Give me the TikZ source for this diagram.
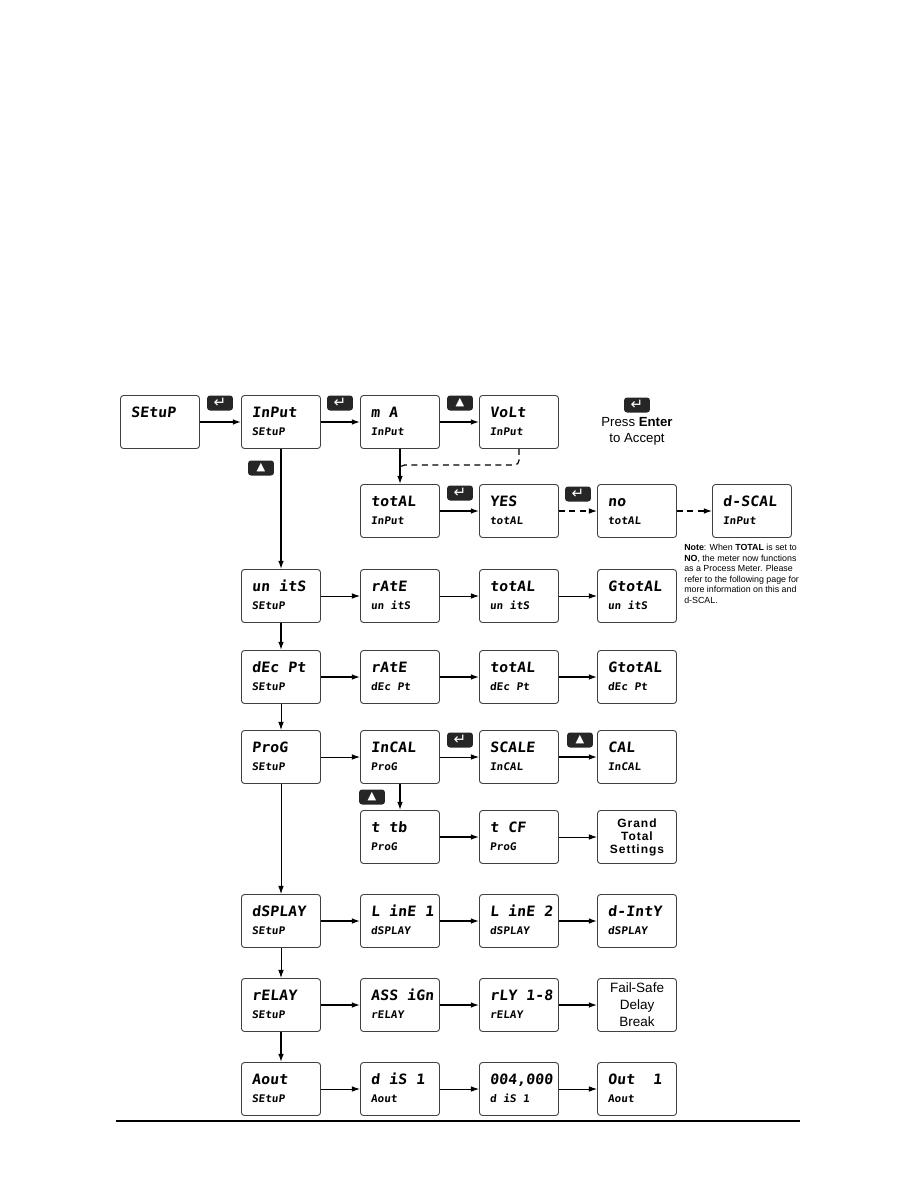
\documentclass[tikz,border=0pt]{standalone}
\usepackage{fontspec}
\setmainfont{Liberation Sans}
\newfontfamily\lcdfont[FakeSlant=0.1,FakeStretch=1.05]{DejaVu Sans Mono}
\newfontfamily\symfont{DejaVu Sans}
\usetikzlibrary{arrows.meta}

\newcommand{\lcdmain}{\lcdfont\bfseries\fontsize{9.5}{12}\selectfont}
\newcommand{\lcdsub}{\lcdfont\bfseries\fontsize{7}{12}\selectfont}
% one blank display cell
\newcommand{\dsp}{\hbox to 0.632em{}}

\tikzset{
	>={Latex[length=5.5pt,width=3.8pt]},
	boxbase/.style={draw=black!75, line width=0.6pt, rounded corners=2pt, minimum width=52.67pt, minimum height=35.33pt, inner ysep=0pt},
	disp/.style={boxbase, inner xsep=6.8pt, text width=39pt, align=left, font=\lcdmain, execute at begin node={\rule{0pt}{7.2pt}}, execute at end node={\rule[-1.2pt]{0pt}{1.2pt}}},
	plainbox/.style={boxbase, inner xsep=2pt, align=center},
	enterkey/.style={fill=black!85, rounded corners=2pt, minimum width=17.3pt, minimum height=10pt, inner sep=0pt, text=white, font=\symfont\fontsize{10}{10}\selectfont},
	upkey/.style={enterkey, font=\symfont\fontsize{7.5}{7.5}\selectfont},
	conn/.style={line width=0.9pt, ->},
	connthin/.style={line width=0.65pt, ->},
	dashconn/.style={line width=0.8pt, dash pattern=on 4pt off 3pt}
}

\begin{document}
\begin{tikzpicture}[x=0.6667pt, y=-0.6667pt]
	\useasboundingbox (0,0) rectangle (918,1188);

	% Input row
	\node[disp] (setup) at (160,422) {SEtuP\\};
	\node[disp] (input) at (281,422) {InPut\\{\lcdsub SEtuP}};
	\node[disp] (ma) at (400,422) {m\dsp A\\{\lcdsub InPut}};
	\node[disp] (volt) at (519,422) {VoLt\\{\lcdsub InPut}};
	\node[enterkey] (k1) at (220,403) {↵};
	\node[enterkey] (k2) at (340,403) {↵};
	\node[upkey] (k3) at (460,403) {▲};
	\draw[conn] (setup) -- (input);
	\draw[conn] (input) -- (ma);
	\draw[conn] (ma) -- (volt);

	% Press Enter
	\node[enterkey] (k7) at (637,405) {↵};
	\node[font=\fontsize{8.8}{10.7}\selectfont, align=center, inner sep=0pt] (press) at (637,431) {Press \textbf{Enter}\\to Accept};

	% Totalizer row
	\node[disp] (total) at (400,511) {totAL\\{\lcdsub InPut}};
	\node[disp] (yes) at (519,511) {YES\\{\lcdsub totAL}};
	\node[disp] (no) at (637,511) {no\\{\lcdsub totAL}};
	\node[disp] (dscal) at (752,511) {d-SCAL\\{\lcdsub InPut}};
	\node[enterkey] (k5) at (460,493) {↵};
	\node[enterkey] (k6) at (578,494) {↵};
	\coordinate (vbend) at (400,465);
	\draw[conn] (ma) -- (total);
	\draw[dashconn, rounded corners=3pt] (volt.south) |- (vbend) -- ++(0,9);
	\draw[conn] (total) -- (yes);
	\draw[dashconn, ->] (yes) -- (no);
	\draw[dashconn, ->] (no) -- (dscal);
	\node[anchor=north west, font=\fontsize{5.9}{7}\selectfont, align=left, inner sep=0pt] (note) at (684,544)
		{\textbf{Note}: When \textbf{TOTAL} is set to\\\textbf{NO}, the meter now functions\\as a Process Meter. Please\\refer to the following page for\\more information on this and\\d-SCAL.};

	% Units row
	\node[disp] (units) at (281,596) {un\dsp itS\\{\lcdsub SEtuP}};
	\node[disp] (urate) at (400,596) {rAtE\\{\lcdsub un\dsp itS}};
	\node[disp] (utotal) at (519,596) {totAL\\{\lcdsub un\dsp itS}};
	\node[disp] (ugtotal) at (637,596) {GtotAL\\{\lcdsub un\dsp itS}};
	\node[upkey] (k4) at (261,468) {▲};
	\draw[conn] (input) -- (units);
	\draw[connthin] (units) -- (urate);
	\draw[connthin] (urate) -- (utotal);
	\draw[connthin] (utotal) -- (ugtotal);

	% Decimal point row
	\node[disp] (decpt) at (281,677) {dEc\dsp Pt\\{\lcdsub SEtuP}};
	\node[disp] (drate) at (400,677) {rAtE\\{\lcdsub dEc\dsp Pt}};
	\node[disp] (dtotal) at (519,677) {totAL\\{\lcdsub dEc\dsp Pt}};
	\node[disp] (dgtotal) at (637,677) {GtotAL\\{\lcdsub dEc\dsp Pt}};
	\draw[conn] (units) -- (decpt);
	\draw[conn] (decpt) -- (drate);
	\draw[conn] (drate) -- (dtotal);
	\draw[conn] (dtotal) -- (dgtotal);

	% Program rows
	\node[disp] (prog) at (281,757) {ProG\\{\lcdsub SEtuP}};
	\node[disp] (incal) at (400,757) {InCAL\\{\lcdsub ProG}};
	\node[disp] (scale) at (519,757) {SCALE\\{\lcdsub InCAL}};
	\node[disp] (cal) at (637,757) {CAL\\{\lcdsub InCAL}};
	\node[enterkey] (k8) at (460,740) {↵};
	\node[upkey] (k9) at (580,740) {▲};
	\node[disp] (ttb) at (400,837) {t\dsp tb\\{\lcdsub ProG}};
	\node[disp] (tcf) at (519,837) {t\dsp CF\\{\lcdsub ProG}};
	\node[plainbox, font=\bfseries\addfontfeature{LetterSpace=8}\fontsize{8}{8.7}\selectfont] (gts) at (637,837) {Grand\\Total\\Settings};
	\node[upkey] (k10) at (372,797) {▲};
	\draw[connthin] (decpt) -- (prog);
	\draw[connthin] (prog) -- (incal);
	\draw[connthin] (incal) -- (scale);
	\draw[conn] (scale) -- (cal);
	\draw[conn] (incal) -- (ttb);
	\draw[conn] (ttb) -- (tcf);
	\draw[connthin] (tcf) -- (gts);

	% Display row
	\node[disp] (dsplay) at (281,921) {dSPLAY\\{\lcdsub SEtuP}};
	\node[disp] (line1) at (400,921) {L\dsp inE\dsp 1\\{\lcdsub dSPLAY}};
	\node[disp] (line2) at (519,921) {L\dsp inE\dsp 2\\{\lcdsub dSPLAY}};
	\node[disp] (dinty) at (637,921) {d-IntY\\{\lcdsub dSPLAY}};
	\draw[connthin] (prog) -- (dsplay);
	\draw[conn] (dsplay) -- (line1);
	\draw[conn] (line1) -- (line2);
	\draw[conn] (line2) -- (dinty);

	% Relay row
	\node[disp] (relay) at (281,1005) {rELAY\\{\lcdsub SEtuP}};
	\node[disp] (assign) at (400,1005) {ASS\dsp iGn\\{\lcdsub rELAY}};
	\node[disp] (rly) at (519,1005) {\mbox{rLY\dsp 1-8}\\{\lcdsub rELAY}};
	\node[plainbox, font=\fontsize{9}{11.3}\selectfont] (fsdb) at (637,1005) {Fail-Safe\\Delay\\Break};
	\draw[connthin] (dsplay) -- (relay);
	\draw[conn] (relay) -- (assign);
	\draw[conn] (assign) -- (rly);
	\draw[conn] (rly) -- (fsdb);

	% Analog output row
	\node[disp] (aout) at (281,1089) {Aout\\{\lcdsub SEtuP}};
	\node[disp] (dis1) at (400,1089) {d\dsp iS\dsp 1\\{\lcdsub Aout}};
	\node[disp] (d004) at (519,1089) {004,000\\{\lcdsub d\dsp iS\dsp 1}};
	\node[disp] (out1) at (637,1089) {Out\dsp\dsp 1\\{\lcdsub Aout}};
	\draw[conn] (relay) -- (aout);
	\draw[connthin] (aout) -- (dis1);
	\draw[connthin] (dis1) -- (d004);
	\draw[connthin] (d004) -- (out1);

	% Page rule
	\draw[line width=0.7pt] (116,1121) -- (800,1121);

\end{tikzpicture}
\end{document}
